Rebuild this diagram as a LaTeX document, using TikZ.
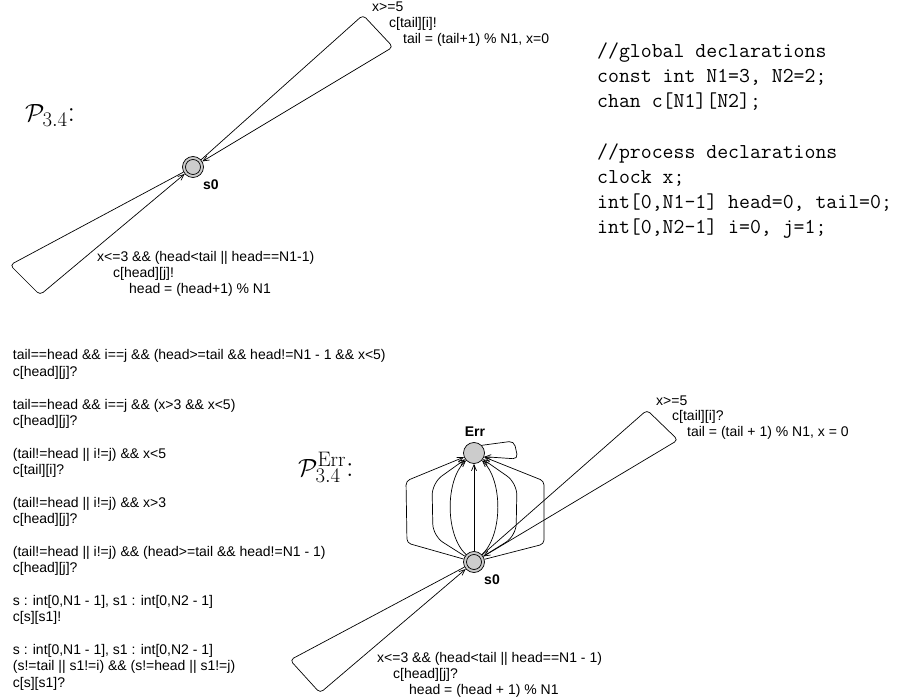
\documentclass[tikz,border=0pt]{standalone}
\usepackage{fontspec}
\usetikzlibrary{arrows.meta}
\newfontfamily\labfont{Liberation Sans}
\begin{document}
\begin{tikzpicture}[x=1pt,y=-1pt,
  lab/.style={font=\labfont\fontsize{14}{16}\selectfont, inner sep=0pt, anchor=base west},
  locname/.style={font=\labfont\bfseries\fontsize{14}{16}\selectfont, inner sep=0pt},
  codeline/.style={font=\ttfamily\fontsize{21.2}{25}\selectfont, inner sep=0pt, anchor=base west},
  plabel/.style={font=\fontsize{30}{32}\selectfont, inner sep=0pt, anchor=base west},
  loc/.style={circle, draw, fill=gray!40, minimum size=21pt, inner sep=0pt, line width=0.7pt},
  edge/.style={line width=0.7pt, -{Straight Barb[length=6pt,width=5pt]}},
  inner/.style={line width=0.7pt}]
\useasboundingbox (0,0) rectangle (900,700);

% ---------- top automaton ----------
\node[loc] (s0t) at (193,167) {};
\draw[inner] (s0t.center) circle[radius=7.5pt];
\node[locname] (s0tl) at (211,185) {s0};
\node[plabel] (ptop) at (25,122) {$\mathcal{P}_{3.4}$:};

\draw[edge, rounded corners=4pt] (s0t) -- (363,15) -- (393,47) -- (s0t);
\draw[edge, rounded corners=4pt] (s0t) -- (10,265) -- (40,295) -- (s0t);

\node[lab] (t1) at (372,12) {x>=5};
\node[lab] (t2) at (389,28) {c[tail][i]!};
\node[lab] (t3) at (403,44) {tail = (tail+1) \% N1, x=0};

\node[lab] (t4) at (97,262) {x<=3 \&\& (head<tail || head==N1-1)};
\node[lab] (t5) at (113,278) {c[head][j]!};
\node[lab] (t6) at (129,294) {head = (head+1) \% N1};

% ---------- declarations ----------
\node[codeline] (c1) at (597,58) {//global declarations};
\node[codeline] (c2) at (597,83) {const int N1=3, N2=2;};
\node[codeline] (c3) at (597,108) {chan c[N1][N2];};
\node[codeline] (c4) at (597,159) {//process declarations};
\node[codeline] (c5) at (597,184) {clock x;};
\node[codeline] (c6) at (597,209) {int[0,N1-1] head=0, tail=0;};
\node[codeline] (c7) at (597,234) {int[0,N2-1] i=0, j=1;};

% ---------- left text block ----------
\node[lab] (b1) at (12.7,360) {tail==head \&\& i==j \&\& (head>=tail \&\& head!=N1 - 1 \&\& x<5)};
\node[lab] (b2) at (12.7,376.35) {c[head][j]?};
\node[lab] (b3) at (12.7,409.05) {tail==head \&\& i==j \&\& (x>3 \&\& x<5)};
\node[lab] (b4) at (12.7,425.4) {c[head][j]?};
\node[lab] (b5) at (12.7,458.1) {(tail!=head || i!=j) \&\& x<5};
\node[lab] (b6) at (12.7,474.45) {c[tail][i]?};
\node[lab] (b7) at (12.7,507.15) {(tail!=head || i!=j) \&\& x>3};
\node[lab] (b8) at (12.7,523.5) {c[head][j]?};
\node[lab] (b9) at (12.7,556.2) {(tail!=head || i!=j) \&\& (head>=tail \&\& head!=N1 - 1)};
\node[lab] (b10) at (12.7,572.55) {c[head][j]?};
\node[lab] (b11) at (12.7,605.25) {s : int[0,N1 - 1], s1 : int[0,N2 - 1]};
\node[lab] (b12) at (12.7,621.6) {c[s][s1]!};
\node[lab] (b13) at (12.7,654.3) {s : int[0,N1 - 1], s1 : int[0,N2 - 1]};
\node[lab] (b14) at (12.7,670.65) {(s!=tail || s1!=i) \&\& (s!=head || s1!=j)};
\node[lab] (b15) at (12.7,687) {c[s][s1]?};

% ---------- bottom automaton ----------
\node[plabel] (pbot) at (298,476) {$\mathcal{P}^{\mathrm{Err}}_{3.4}$:};
\node[loc] (err) at (474,453) {};
\node[locname] (errl) at (475,432) {Err};
\node[loc] (s0b) at (474,562) {};
\draw[inner] (s0b.center) circle[radius=7.5pt];
\node[locname] (s0bl) at (492,580) {s0};

\draw[edge] (s0b) -- (err);
\draw[edge] (s0b) .. controls (445,535) and (445,480) .. (err);
\draw[edge] (s0b) .. controls (503,535) and (503,480) .. (err);
\draw[edge, rounded corners=12pt] (s0b) -- (433,536) -- (432,483) -- (err);
\draw[edge, rounded corners=12pt] (s0b) -- (516,536) -- (517,483) -- (err);
\draw[edge, rounded corners=4pt] (s0b) -- (407,543) -- (406,481) -- (err);
\draw[edge, rounded corners=4pt] (s0b) -- (544,544) -- (544,481) -- (err);
\draw[edge, rounded corners=5pt] (err.45) -- (514,441) -- (518,459) -- (err.-20);

\draw[edge, rounded corners=4pt] (s0b) -- (647,410) -- (678,440) -- (s0b);
\draw[edge, rounded corners=4pt] (s0b) -- (290,660) -- (320,693) -- (s0b);

\node[lab] (r1) at (656,406) {x>=5};
\node[lab] (r2) at (672,421) {c[tail][i]?};
\node[lab] (r3) at (687,437) {tail = (tail + 1) \% N1, x = 0};

\node[lab] (l1) at (377,662) {x<=3 \&\& (head<tail || head==N1 - 1)};
\node[lab] (l2) at (393,678) {c[head][j]?};
\node[lab] (l3) at (409,694) {head = (head + 1) \% N1};
\end{tikzpicture}
\end{document}
